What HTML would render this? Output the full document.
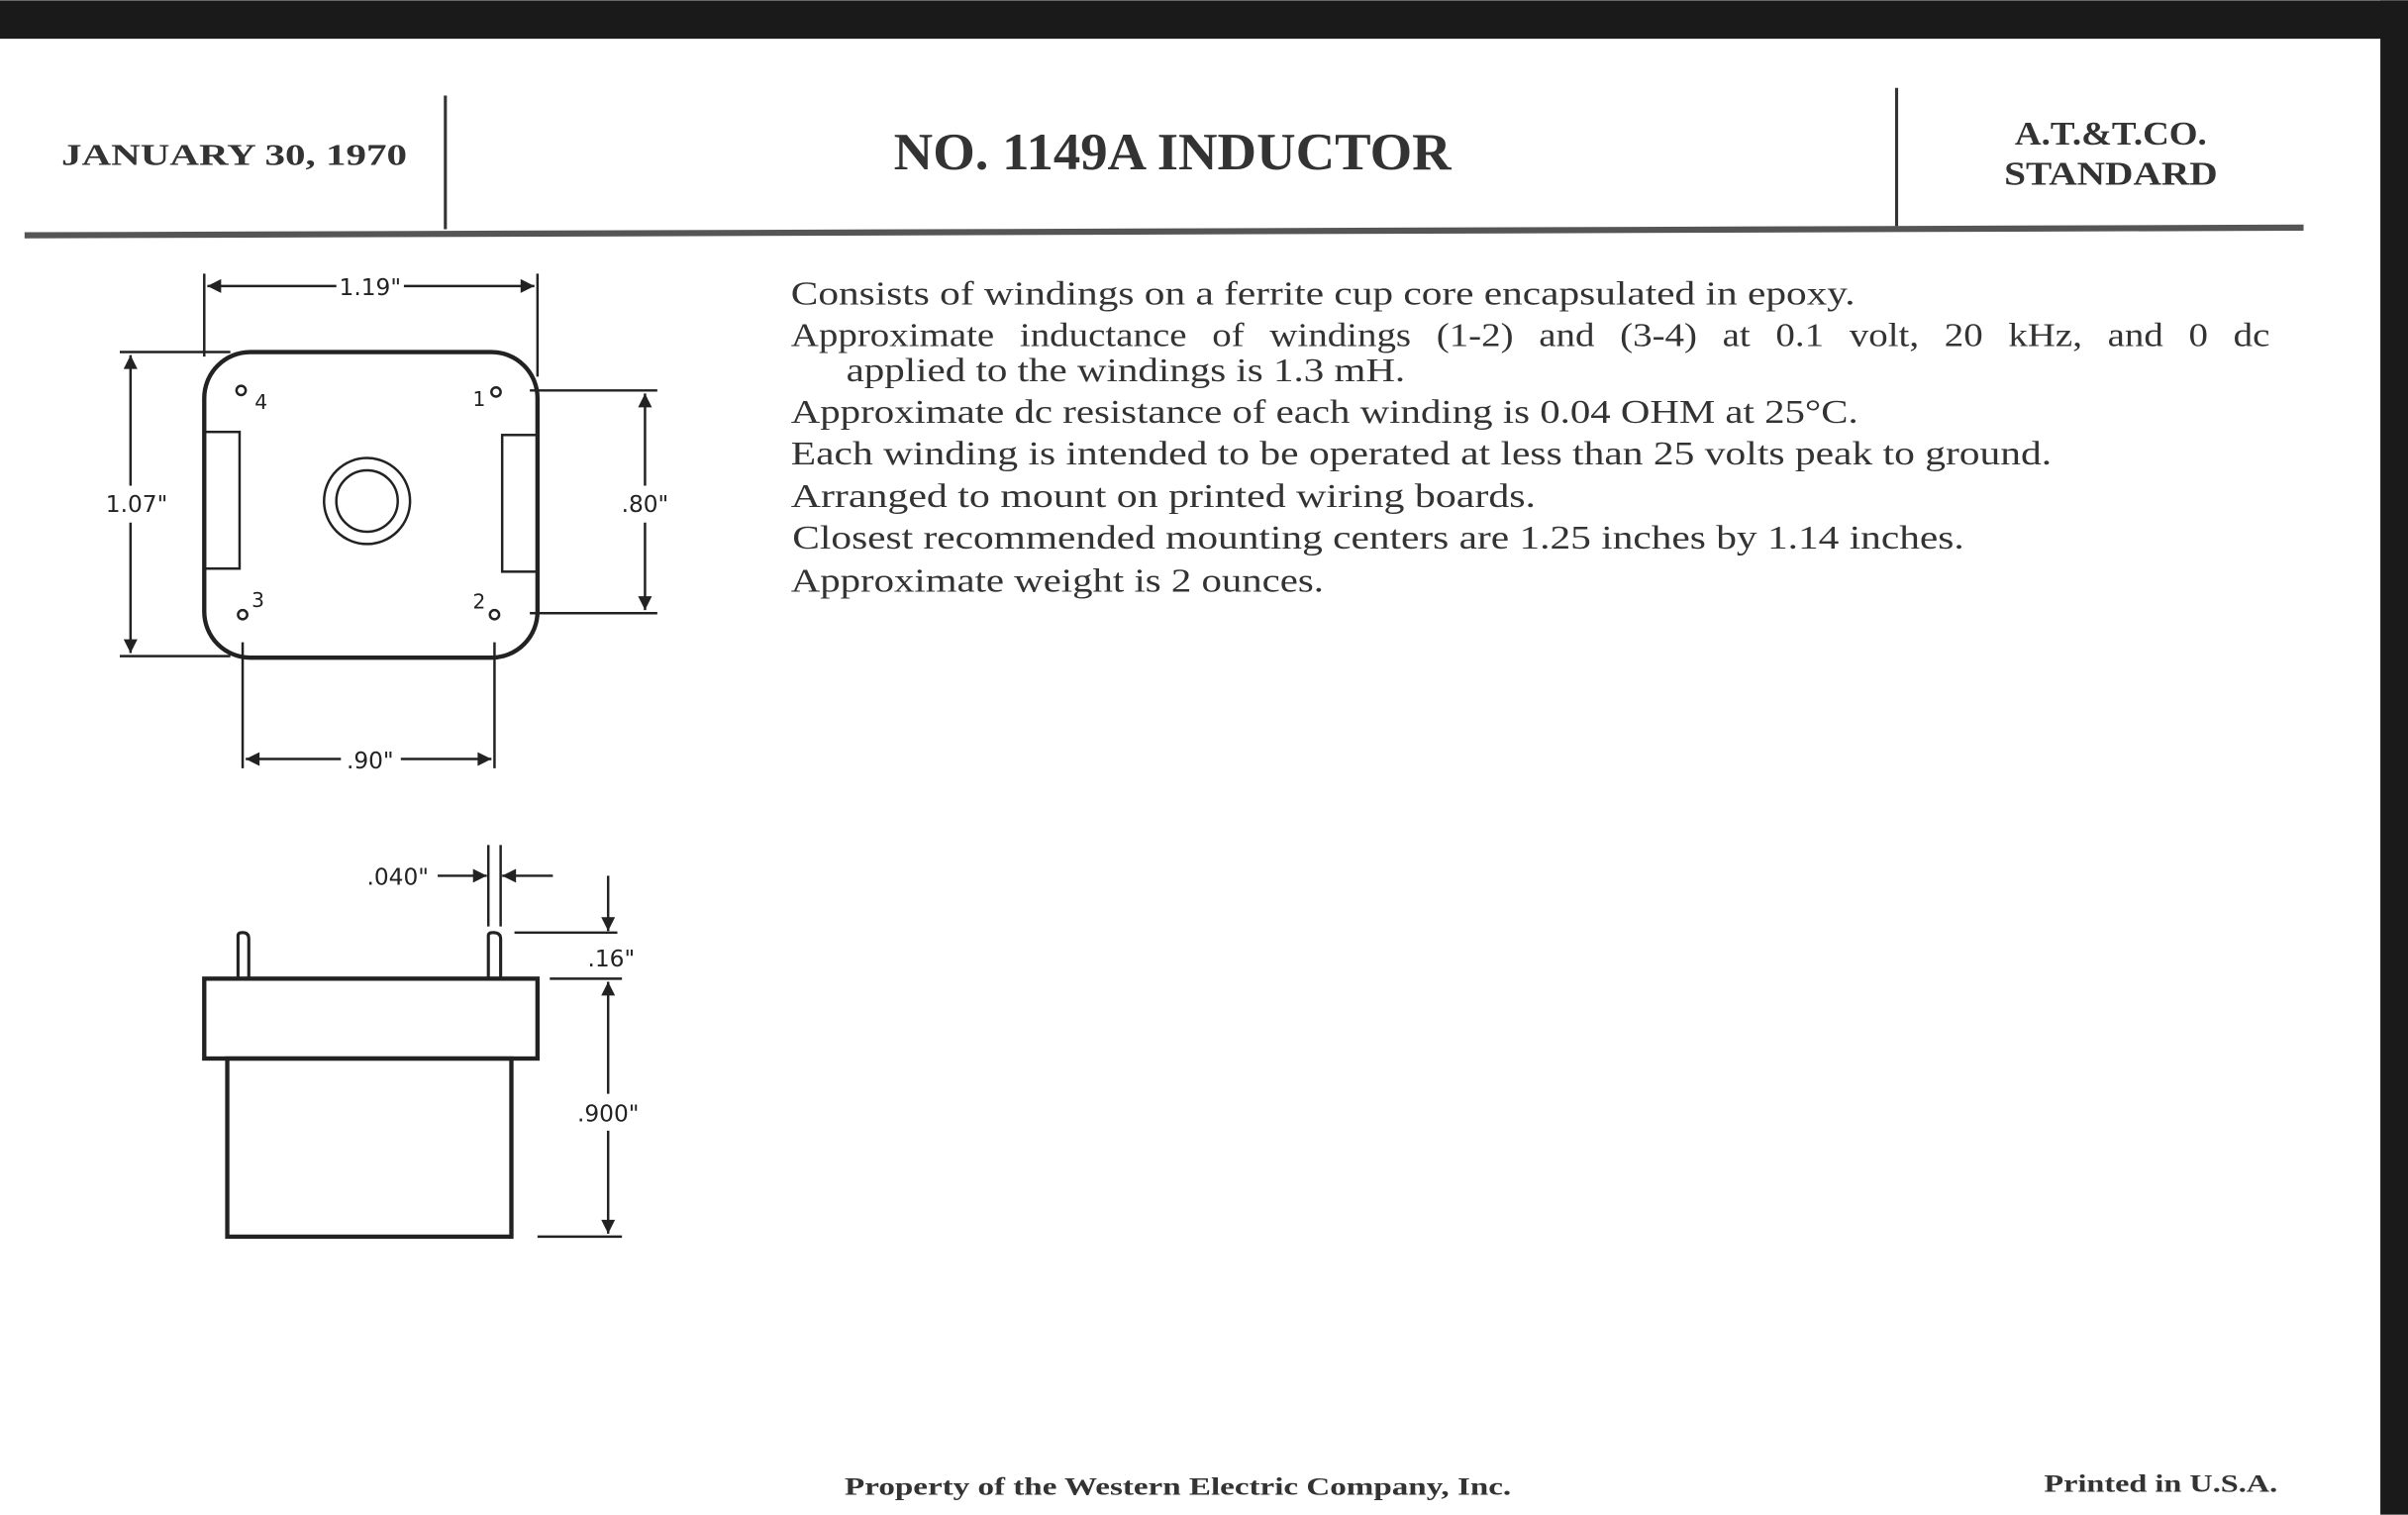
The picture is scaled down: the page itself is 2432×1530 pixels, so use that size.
<!DOCTYPE html>
<html><head><meta charset="utf-8"><style>
html,body{margin:0;padding:0;background:#fff;}
svg{display:block;}
</style></head><body>
<svg width="2432" height="1530" viewBox="0 0 1568 986" xmlns="http://www.w3.org/2000/svg">
<defs>
<marker id="a" viewBox="0 0 10 10" refX="10" refY="5" markerWidth="16" markerHeight="9" markerUnits="userSpaceOnUse" orient="auto"><path d="M0,0 L10,5 L0,10 Z" fill="#222"/></marker>
</defs>
<rect width="1568" height="986" fill="#fff"/>
<rect x="0" y="0" width="1568" height="25" fill="#1a1a1a"/>
<rect x="1550" y="0" width="18" height="986" fill="#1a1a1a"/>
<g font-family="Liberation Serif, serif" font-weight="bold" fill="#333">
<text x="40" y="107" font-size="20" textLength="225" lengthAdjust="spacingAndGlyphs">JANUARY 30, 1970</text>
<text x="582" y="110" font-size="34" textLength="363" lengthAdjust="spacingAndGlyphs">NO. 1149A INDUCTOR</text>
<text x="1312" y="94" font-size="22" textLength="125" lengthAdjust="spacingAndGlyphs">A.T.&amp;T.CO.</text>
<text x="1305" y="120" font-size="22" textLength="139" lengthAdjust="spacingAndGlyphs">STANDARD</text>
<text x="550" y="973" font-size="16" textLength="434" lengthAdjust="spacingAndGlyphs">Property of the Western Electric Company, Inc.</text>
<text x="1331" y="971" font-size="16" textLength="152" lengthAdjust="spacingAndGlyphs">Printed in U.S.A.</text>
</g>
<line x1="290" y1="62" x2="290" y2="149" stroke="#333" stroke-width="2"/>
<line x1="1235" y1="57" x2="1235" y2="147" stroke="#333" stroke-width="2"/>
<path d="M16,153 L1500,148" stroke="#555" stroke-width="4"/>
<g font-family="Liberation Serif, serif" font-size="22" fill="#333">
<text x="515" y="198" textLength="693" lengthAdjust="spacingAndGlyphs">Consists of windings on a ferrite cup core encapsulated in epoxy.</text>
<text x="515" y="225" word-spacing="9" textLength="963" lengthAdjust="spacingAndGlyphs">Approximate inductance of windings (1-2) and (3-4) at 0.1 volt, 20 kHz, and 0 dc</text>
<text x="551" y="248" textLength="364" lengthAdjust="spacingAndGlyphs">applied to the windings is 1.3 mH.</text>
<text x="515" y="275" textLength="695" lengthAdjust="spacingAndGlyphs">Approximate dc resistance of each winding is 0.04 OHM at 25°C.</text>
<text x="515" y="302" textLength="821" lengthAdjust="spacingAndGlyphs">Each winding is intended to be operated at less than 25 volts peak to ground.</text>
<text x="515" y="330" textLength="485" lengthAdjust="spacingAndGlyphs">Arranged to mount on printed wiring boards.</text>
<text x="516" y="357" textLength="763" lengthAdjust="spacingAndGlyphs">Closest recommended mounting centers are 1.25 inches by 1.14 inches.</text>
<text x="515" y="385" textLength="347" lengthAdjust="spacingAndGlyphs">Approximate weight is 2 ounces.</text>
</g>
<g stroke="#222" fill="none" stroke-width="1.6">
<rect x="133" y="229" width="217" height="199" rx="30" stroke-width="2.8"/>
<rect x="133" y="281" width="23" height="89"/>
<rect x="327" y="283" width="23" height="89"/>
<circle cx="239" cy="326" r="28"/>
<circle cx="239" cy="326" r="20"/>
<circle cx="157" cy="254" r="3"/>
<circle cx="323" cy="255" r="3"/>
<circle cx="158" cy="400" r="3"/>
<circle cx="322" cy="400" r="3"/>
<line x1="133" y1="178" x2="133" y2="232"/>
<line x1="350" y1="178" x2="350" y2="245"/>
<line x1="219" y1="186" x2="135" y2="186" marker-end="url(#a)"/>
<line x1="263" y1="186" x2="348" y2="186" marker-end="url(#a)"/>
<line x1="78" y1="229" x2="150" y2="229"/>
<line x1="78" y1="427" x2="150" y2="427"/>
<line x1="85" y1="316" x2="85" y2="231" marker-end="url(#a)"/>
<line x1="85" y1="340" x2="85" y2="425" marker-end="url(#a)"/>
<line x1="345" y1="254" x2="428" y2="254"/>
<line x1="345" y1="399" x2="428" y2="399"/>
<line x1="420" y1="316" x2="420" y2="256" marker-end="url(#a)"/>
<line x1="420" y1="340" x2="420" y2="397" marker-end="url(#a)"/>
<line x1="158" y1="418" x2="158" y2="500"/>
<line x1="322" y1="418" x2="322" y2="500"/>
<line x1="222" y1="494" x2="160" y2="494" marker-end="url(#a)"/>
<line x1="261" y1="494" x2="320" y2="494" marker-end="url(#a)"/>
<rect x="133" y="637" width="217" height="52" stroke-width="2.8"/>
<rect x="148" y="689" width="185" height="116" stroke-width="2.8"/>
<path d="M155,637 V609 Q155,607 158,607 Q162,607 162,611 V637" stroke-width="2"/>
<path d="M318,637 V609 Q318,607 321,607 Q326,607 326,611 V637" stroke-width="2"/>
<line x1="318" y1="550" x2="318" y2="603"/>
<line x1="326" y1="550" x2="326" y2="603"/>
<line x1="285" y1="570" x2="317" y2="570" marker-end="url(#a)"/>
<line x1="360" y1="570" x2="327" y2="570" marker-end="url(#a)"/>
<line x1="335" y1="607" x2="402" y2="607"/>
<line x1="396" y1="570" x2="396" y2="606" marker-end="url(#a)"/>
<line x1="358" y1="637" x2="405" y2="637"/>
<line x1="350" y1="805" x2="405" y2="805"/>
<line x1="396" y1="712" x2="396" y2="639" marker-end="url(#a)"/>
<line x1="396" y1="736" x2="396" y2="803" marker-end="url(#a)"/>
</g>
<g font-family="DejaVu Sans, Liberation Sans, sans-serif" font-size="15" fill="#222" text-anchor="middle">
<text x="241" y="192">1.19"</text>
<text x="89" y="333">1.07"</text>
<text x="420" y="333">.80"</text>
<text x="241" y="500">.90"</text>
<text x="170" y="266" font-size="13">4</text>
<text x="312" y="264" font-size="13">1</text>
<text x="168" y="395" font-size="13">3</text>
<text x="312" y="396" font-size="13">2</text>
<text x="259" y="576">.040"</text>
<text x="398" y="629">.16"</text>
<text x="396" y="730">.900"</text>
</g>
</svg>
</body></html>
